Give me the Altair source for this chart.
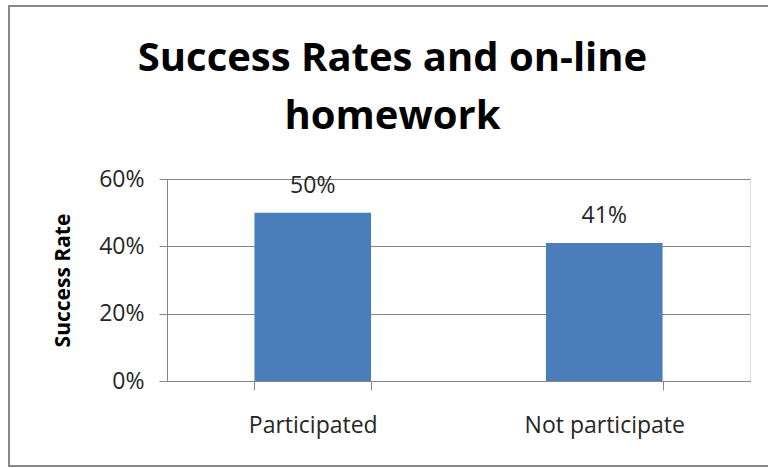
import altair as alt
import pandas as pd

categories = ["Participated", "Not participate"]
rates = [0.50, 0.41]
title_lines = ["Success Rates and on-line", "homework"]
y_ticks = [0, 0.2, 0.4, 0.6]

df = pd.DataFrame({"group": categories, "rate": rates})

FONT = "Open Sans"
GRAY = "#868686"
TXT = "#262626"

base = alt.Chart(df).encode(
    x=alt.X("group:N", sort=categories,
            scale=alt.Scale(paddingInner=0.6, paddingOuter=0.3),
            axis=alt.Axis(title=None, labelAngle=0, labelFontSize=23, labelFont=FONT,
                          labelColor=TXT, labelPadding=24, tickBand="extent",
                          tickSize=9, tickColor=GRAY, domainColor=GRAY, grid=False)),
    y=alt.Y("rate:Q", scale=alt.Scale(domain=[0, 0.6], nice=False),
            axis=alt.Axis(values=y_ticks, format=".0%", title="Success Rate",
                          titleFont=FONT, titleFontSize=21, titleFontWeight="bold",
                          titleColor="#000000", titlePadding=25,
                          labelFontSize=23, labelFont=FONT, labelColor=TXT,
                          labelPadding=15, tickSize=8, tickColor=GRAY,
                          domainColor=GRAY, gridColor=GRAY)),
)

bars = base.mark_bar(color="#4A7EBB")
labels = base.mark_text(dy=-27, fontSize=23, font=FONT, color=TXT).encode(
    text=alt.Text("rate:Q", format=".0%"))

border = alt.Chart(df).mark_rect(fill=None, stroke="#888888", strokeWidth=2).encode(
    x=alt.value(-158), x2=alt.value(620), y=alt.value(-173), y2=alt.value(287))

chart = alt.layer(border, bars, labels).properties(
    width=583, height=202,
    padding={"left": 167, "top": 179, "right": 18, "bottom": 87},
    autosize=alt.AutoSizeParams(type="none"),
    title=alt.TitleParams(title_lines, font=FONT, fontSize=40, fontWeight="bold",
                          color="#000000", anchor="middle", dx=-66, lineHeight=58,
                          offset=0, dy=132),
).configure_view(stroke=None).configure(background="white")

chart.save("out.html", embed_options={"renderer": "svg", "actions": False})
